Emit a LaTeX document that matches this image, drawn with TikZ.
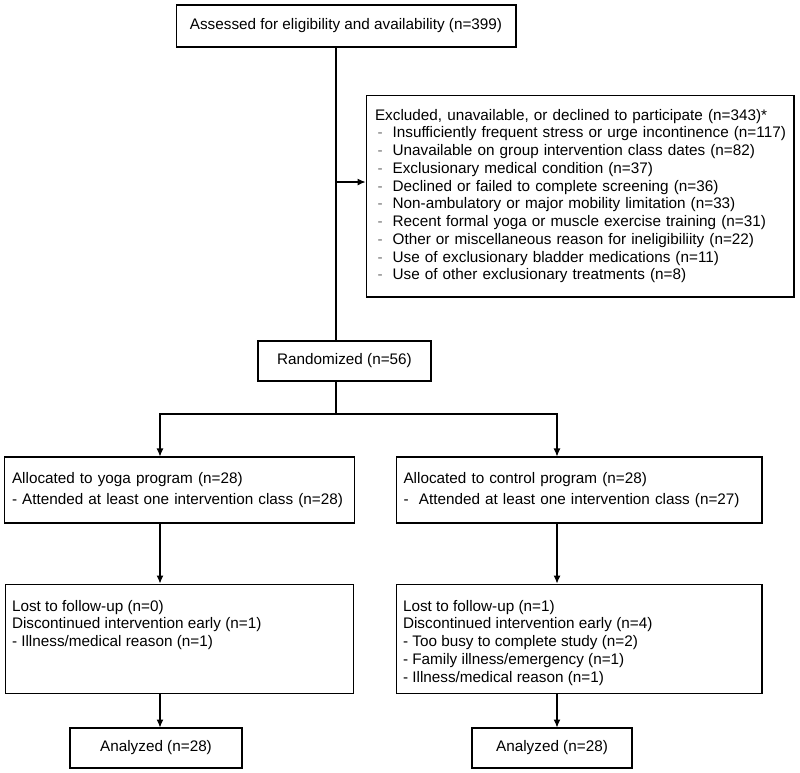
\documentclass[tikz,border=0pt]{standalone}
\usepackage{fontspec}
\setmainfont{Liberation Sans}
\usetikzlibrary{arrows.meta, positioning}
\tikzset{
  box/.style={rectangle, draw=black, line width=0.6pt, font=\fontsize{8.7pt}{10.1pt}\selectfont, inner sep=0pt},
  listbox/.style={box, align=left, inner xsep=0.15cm},
  arrow/.style={line width=0.6pt, -{Latex[length=1.6mm,width=1.4mm]}},
  line/.style={line width=0.6pt}
}
\newcommand{\exitem}{\hspace*{0.05cm}{\color{black!55}-}\hspace*{0.2cm}}

\begin{document}
\begin{tikzpicture}[x=0.02cm, y=-0.02cm]
  \useasboundingbox (0,0) rectangle (800,772);

  % Screening
  \node (assess) [box, minimum width=6.8cm, minimum height=0.84cm] at (346,26) {Assessed for eligibility and availability (n=399)};
  \node (excl) [listbox, text width=8.2cm, minimum height=4.04cm, inner xsep=0.18cm] at (580,196) {Excluded, unavailable, or declined to participate (n=343)*\\
    \mbox{\exitem Insufficiently frequent stress or urge incontinence (n=117)}\\
    \exitem Unavailable on group intervention class dates (n=82)\\
    \exitem Exclusionary medical condition (n=37)\\
    \exitem Declined or failed to complete screening (n=36)\\
    \exitem Non-ambulatory or major mobility limitation (n=33)\\
    \exitem Recent formal yoga or muscle exercise training (n=31)\\
    \exitem Other or miscellaneous reason for ineligibiliity (n=22)\\
    \exitem Use of exclusionary bladder medications (n=11)\\
    \exitem Use of other exclusionary treatments (n=8)};
  \node (rand) [box, minimum width=3.46cm, minimum height=0.8cm] at (344.5,361) {Randomized (n=56)};

  % Spine and exclusion arrow
  \coordinate (spine) at (336,0);
  \coordinate (exclin) at (336,182);
  \draw [line] (assess.south -| spine) -- (rand.north -| spine);
  \draw [arrow] (exclin) -- (exclin -| excl.west);

  % Allocation
  \node (yoga) [listbox, text width=6.7cm, minimum height=1.32cm, font=\fontsize{8.7pt}{11.6pt}\selectfont] at (179.5,490) {Allocated to yoga program (n=28)\\
    - Attended at least one intervention class (n=28)};
  \node (ctrl) [listbox, text width=7.02cm, minimum height=1.32cm, font=\fontsize{8.7pt}{11.6pt}\selectfont] at (579,490) {Allocated to control program (n=28)\\
    -\ \ Attended at least one intervention class (n=27)};

  \coordinate (split) at (336,414);
  \coordinate (colL) at (160,414);
  \coordinate (colR) at (557,414);
  \draw [line] (rand.south -| spine) -- (split);
  \draw [arrow] (split) -| (yoga.north -| colL);
  \draw [arrow] (split) -| (ctrl.north -| colR);

  % Follow-up
  \node (lostY) [box, inner xsep=0.14cm, inner ysep=0.32cm, below=1.2cm of yoga] {\parbox[c][1.54cm][t]{6.7cm}{Lost to follow-up (n=0)\\
    Discontinued intervention early (n=1)\\
    - Illness/medical reason (n=1)}};
  \node (lostC) [box, inner xsep=0.14cm, inner ysep=0.32cm, below=1.2cm of ctrl] {\parbox[c][1.54cm][t]{7.04cm}{Lost to follow-up (n=1)\\
    Discontinued intervention early (n=4)\\
    - Too busy to complete study (n=2)\\
    - Family illness/emergency (n=1)\\
    - Illness/medical reason (n=1)}};
  \draw [arrow] (yoga.south -| colL) -- (lostY.north -| colL);
  \draw [arrow] (ctrl.south -| colR) -- (lostC.north -| colR);

  % Analysis
  \node (anaY) [box, minimum width=3.44cm, minimum height=0.8cm] at (156,748) {Analyzed (n=28)};
  \node (anaC) [box, minimum width=3.2cm, minimum height=0.8cm] at (552,748) {Analyzed (n=28)};
  \draw [arrow] (lostY.south -| colL) -- (anaY.north -| colL);
  \draw [arrow] (lostC.south -| colR) -- (anaC.north -| colR);
\end{tikzpicture}
\end{document}
